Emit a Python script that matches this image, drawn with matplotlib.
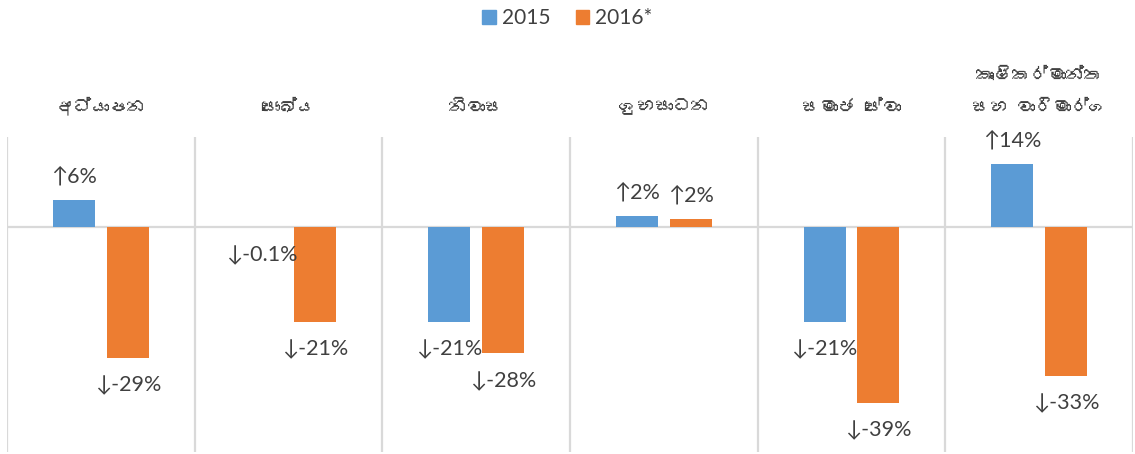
import matplotlib
matplotlib.use('Agg')
import matplotlib.pyplot as plt
from matplotlib import font_manager
from matplotlib.ft2font import FT2Font
from matplotlib.patches import Patch
import numpy as np

# Data
categories = ['අධ්යාපන', 'සෞඛ්ය', 'නිවාස', 'ශුභසාධන', 'සමාජ සේවා',
              'කෘෂිකර්මාන්ත\nසහ වාරිමාර්ග']
series_names = ['2015', '2016*']
values_2015 = [6, -0.1, -21, 2.4, -21, 14]
values_2016 = [-29, -21, -28, 1.8, -39, -33]
labels_2015 = ['↑6%', '↓-0.1%', '↓-21%', '↑2%', '↓-21%', '↑14%']
labels_2016 = ['↓-29%', '↓-21%', '↓-28%', '↑2%', '↓-39%', '↓-33%']

blue = '#5B9BD5'
orange = '#ED7D31'
grid_col = '#D9D9D9'
text_col = '#404040'

# look for any installed font that has Sinhala glyphs
sinhala_fonts = []
for f in font_manager.fontManager.ttflist:
    try:
        if 0x0D85 in FT2Font(f.fname).get_charmap():
            if f.name not in sinhala_fonts:
                sinhala_fonts.append(f.name)
    except Exception:
        continue
cat_family = sinhala_fonts + ['Lato', 'DejaVu Sans']
num_family = ['Lato', 'DejaVu Sans']

fig = plt.figure(figsize=(11.35, 4.54), dpi=100)
ax = fig.add_axes([7 / 1135, 2 / 454, 1126 / 1135, 315 / 454])
ax.set_xlim(-0.5, 5.5)
ax.set_ylim(-50, 20)

x = np.arange(len(categories))
off = 27 / 188
w = 42 / 188

for k in range(len(categories) + 1):
    ax.axvline(k - 0.5, color=grid_col, lw=1.6, zorder=0)
ax.axhline(0, color=grid_col, lw=1.6, zorder=0)

b1 = ax.bar(x - off, values_2015, w, color=blue, zorder=2)
b2 = ax.bar(x + off, values_2016, w, color=orange, zorder=2)

for bars, vals, labs in [(b1, values_2015, labels_2015), (b2, values_2016, labels_2016)]:
    for rect, v, lab in zip(bars, vals, labs):
        cx = rect.get_x() + rect.get_width() / 2
        dy = 17 if v >= 0 else -20
        ax.annotate(lab, xy=(cx, v), xytext=(0, dy), textcoords='offset points',
                    ha='center', va='center', fontsize=15.5, color=text_col,
                    family=num_family, zorder=3)

for i, c in enumerate(categories):
    ax.annotate(c, xy=(i, 1), xycoords=('data', 'axes fraction'),
                xytext=(0, 16), textcoords='offset points',
                ha='center', va='bottom', fontsize=13, color=text_col,
                family=cat_family, linespacing=2.1, annotation_clip=False)

for s in ax.spines.values():
    s.set_visible(False)
ax.set_xticks([])
ax.set_yticks([])

handles = [Patch(color=blue), Patch(color=orange)]
fig.legend(handles, series_names, loc='center', bbox_to_anchor=(0.5, 1 - 18 / 454),
           ncol=2, frameon=False, handlelength=0.65, handleheight=0.65,
           handletextpad=0.3, columnspacing=1.2,
           prop={'family': num_family, 'size': 15}, labelcolor=text_col)

fig.savefig('out.png', dpi=100)
